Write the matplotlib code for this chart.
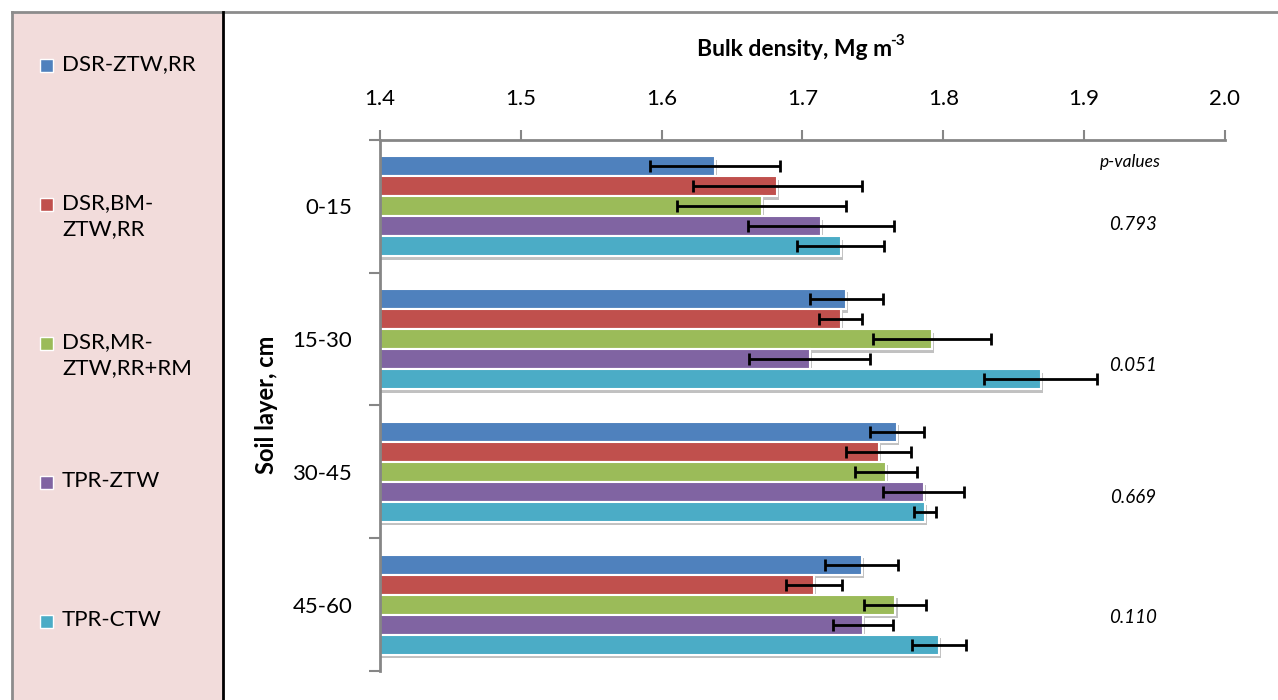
import matplotlib
matplotlib.use('Agg')
import matplotlib.pyplot as plt
import matplotlib.patheffects as pe
from matplotlib.patches import Rectangle
from matplotlib.lines import Line2D
import numpy as np

plt.rcParams['font.family'] = ['Lato', 'DejaVu Sans']

layers = ['0-15', '15-30', '30-45', '45-60']
series = ['DSR-ZTW,RR', 'DSR,BM-\nZTW,RR', 'DSR,MR-\nZTW,RR+RM', 'TPR-ZTW', 'TPR-CTW']
colors = ['#4F81BD', '#C0504D', '#9BBB59', '#8064A2', '#4BACC6']

dsr_ztw_rr = [1.638, 1.731, 1.767, 1.742]
dsr_bm = [1.682, 1.727, 1.754, 1.708]
dsr_mr = [1.671, 1.792, 1.759, 1.766]
tpr_ztw = [1.713, 1.705, 1.786, 1.743]
tpr_ctw = [1.727, 1.869, 1.787, 1.797]

err_dsr_ztw_rr = [0.046, 0.026, 0.019, 0.026]
err_dsr_bm = [0.060, 0.015, 0.023, 0.020]
err_dsr_mr = [0.060, 0.042, 0.022, 0.022]
err_tpr_ztw = [0.052, 0.043, 0.029, 0.021]
err_tpr_ctw = [0.031, 0.040, 0.008, 0.019]

p_values = ['0.793', '0.051', '0.669', '0.110']
p_offsets = [0.14, 0.20, 0.19, 0.10]

values = [dsr_ztw_rr, dsr_bm, dsr_mr, tpr_ztw, tpr_ctw]
errors = [err_dsr_ztw_rr, err_dsr_bm, err_dsr_mr, err_tpr_ztw, err_tpr_ctw]

W, H = 1278, 700
fig = plt.figure(figsize=(12.78, 7.0), dpi=100)

# frame and pink legend panel
fig.add_artist(Rectangle((12 / W, 0), (223 - 12) / W, 1 - 12 / H,
                         transform=fig.transFigure, facecolor='#F2DCDB', edgecolor='none'))
fig.add_artist(Line2D([12 / W, 1], [1 - 12 / H, 1 - 12 / H], transform=fig.transFigure,
                      color='#8C8C8C', lw=2))
fig.add_artist(Line2D([12 / W, 12 / W], [0, 1 - 12 / H], transform=fig.transFigure,
                      color='#8C8C8C', lw=2))
fig.add_artist(Line2D([223 / W, 223 / W], [0, 1 - 12 / H], transform=fig.transFigure,
                      color='black', lw=2))

ax = fig.add_axes([380 / W, 1 - 671 / H, (1225 - 380) / W, (671 - 140) / H])

y = np.arange(len(layers))
h = 0.151
shadow = [pe.SimplePatchShadow(offset=(1.5, -2.5), shadow_rgbFace='#777777', alpha=0.45),
          pe.Normal()]
for j, (vals, errs) in enumerate(zip(values, errors)):
    pos = y + (j - 2) * h
    bars = ax.barh(pos, vals, height=h, color=colors[j], edgecolor='white', lw=1.5,
                   zorder=2)
    for b in bars:
        b.set_path_effects(shadow)
    ax.errorbar(vals, pos, xerr=errs, fmt='none', ecolor='black', elinewidth=2,
                capsize=4.5, capthick=2, zorder=3)

ax.set_xlim(1.4, 2.0)
ax.set_ylim(3.5, -0.5)
ax.xaxis.tick_top()
ax.set_xticks(np.arange(1.4, 2.01, 0.1))
ax.set_xticklabels(['%.1f' % v for v in np.arange(1.4, 2.01, 0.1)])
ax.tick_params(axis='x', direction='out', length=7, width=1.5, color='#868686',
               pad=15, labelsize=16)

ax.set_yticks(np.arange(-0.5, len(layers), 1.0))
ax.set_yticklabels([])
ax.set_yticks(y, minor=True)
ax.set_yticklabels(layers, minor=True)
ax.tick_params(axis='y', which='major', direction='out', length=8, width=1.5,
               color='#868686')
ax.tick_params(axis='y', which='minor', length=0, pad=20, labelsize=16)

for s in ['right', 'bottom']:
    ax.spines[s].set_visible(False)
for s in ['top', 'left']:
    ax.spines[s].set_color('#868686')
    ax.spines[s].set_linewidth(2)

ax.text(1.933, -0.334, 'p-values', style='italic', fontsize=12.5, ha='center', va='center')
for i, p in enumerate(p_values):
    ax.text(1.935, i + p_offsets[i], p, style='italic', fontsize=13.5,
            ha='center', va='center')

# title with a bold superscript
title = fig.text(795 / W, 1 - 50 / H, 'Bulk density, Mg m', fontweight='bold',
                 fontsize=16.5, ha='center', va='center')
ax.annotate('-3', xy=(1.0, 0.95), xycoords=title, xytext=(-1.5, 0),
            textcoords='offset points', fontweight='bold', fontsize=11,
            ha='left', va='center', annotation_clip=False)
fig.text(267 / W, 1 - 405 / H, 'Soil layer, cm', fontweight='bold', fontsize=17,
         rotation=90, ha='center', va='center')

# legend in the pink panel
for j, name in enumerate(series):
    yc = 65 + 139 * j
    fig.add_artist(Rectangle((40 / W, 1 - (yc + 6.5) / H), 13 / W, 13 / H,
                             transform=fig.transFigure, facecolor=colors[j],
                             edgecolor='white', lw=1))
    fig.text(62 / W, 1 - (yc - 11) / H, name, fontsize=16, ha='left', va='top',
             linespacing=1.4)

fig.savefig('out.png', dpi=100)
